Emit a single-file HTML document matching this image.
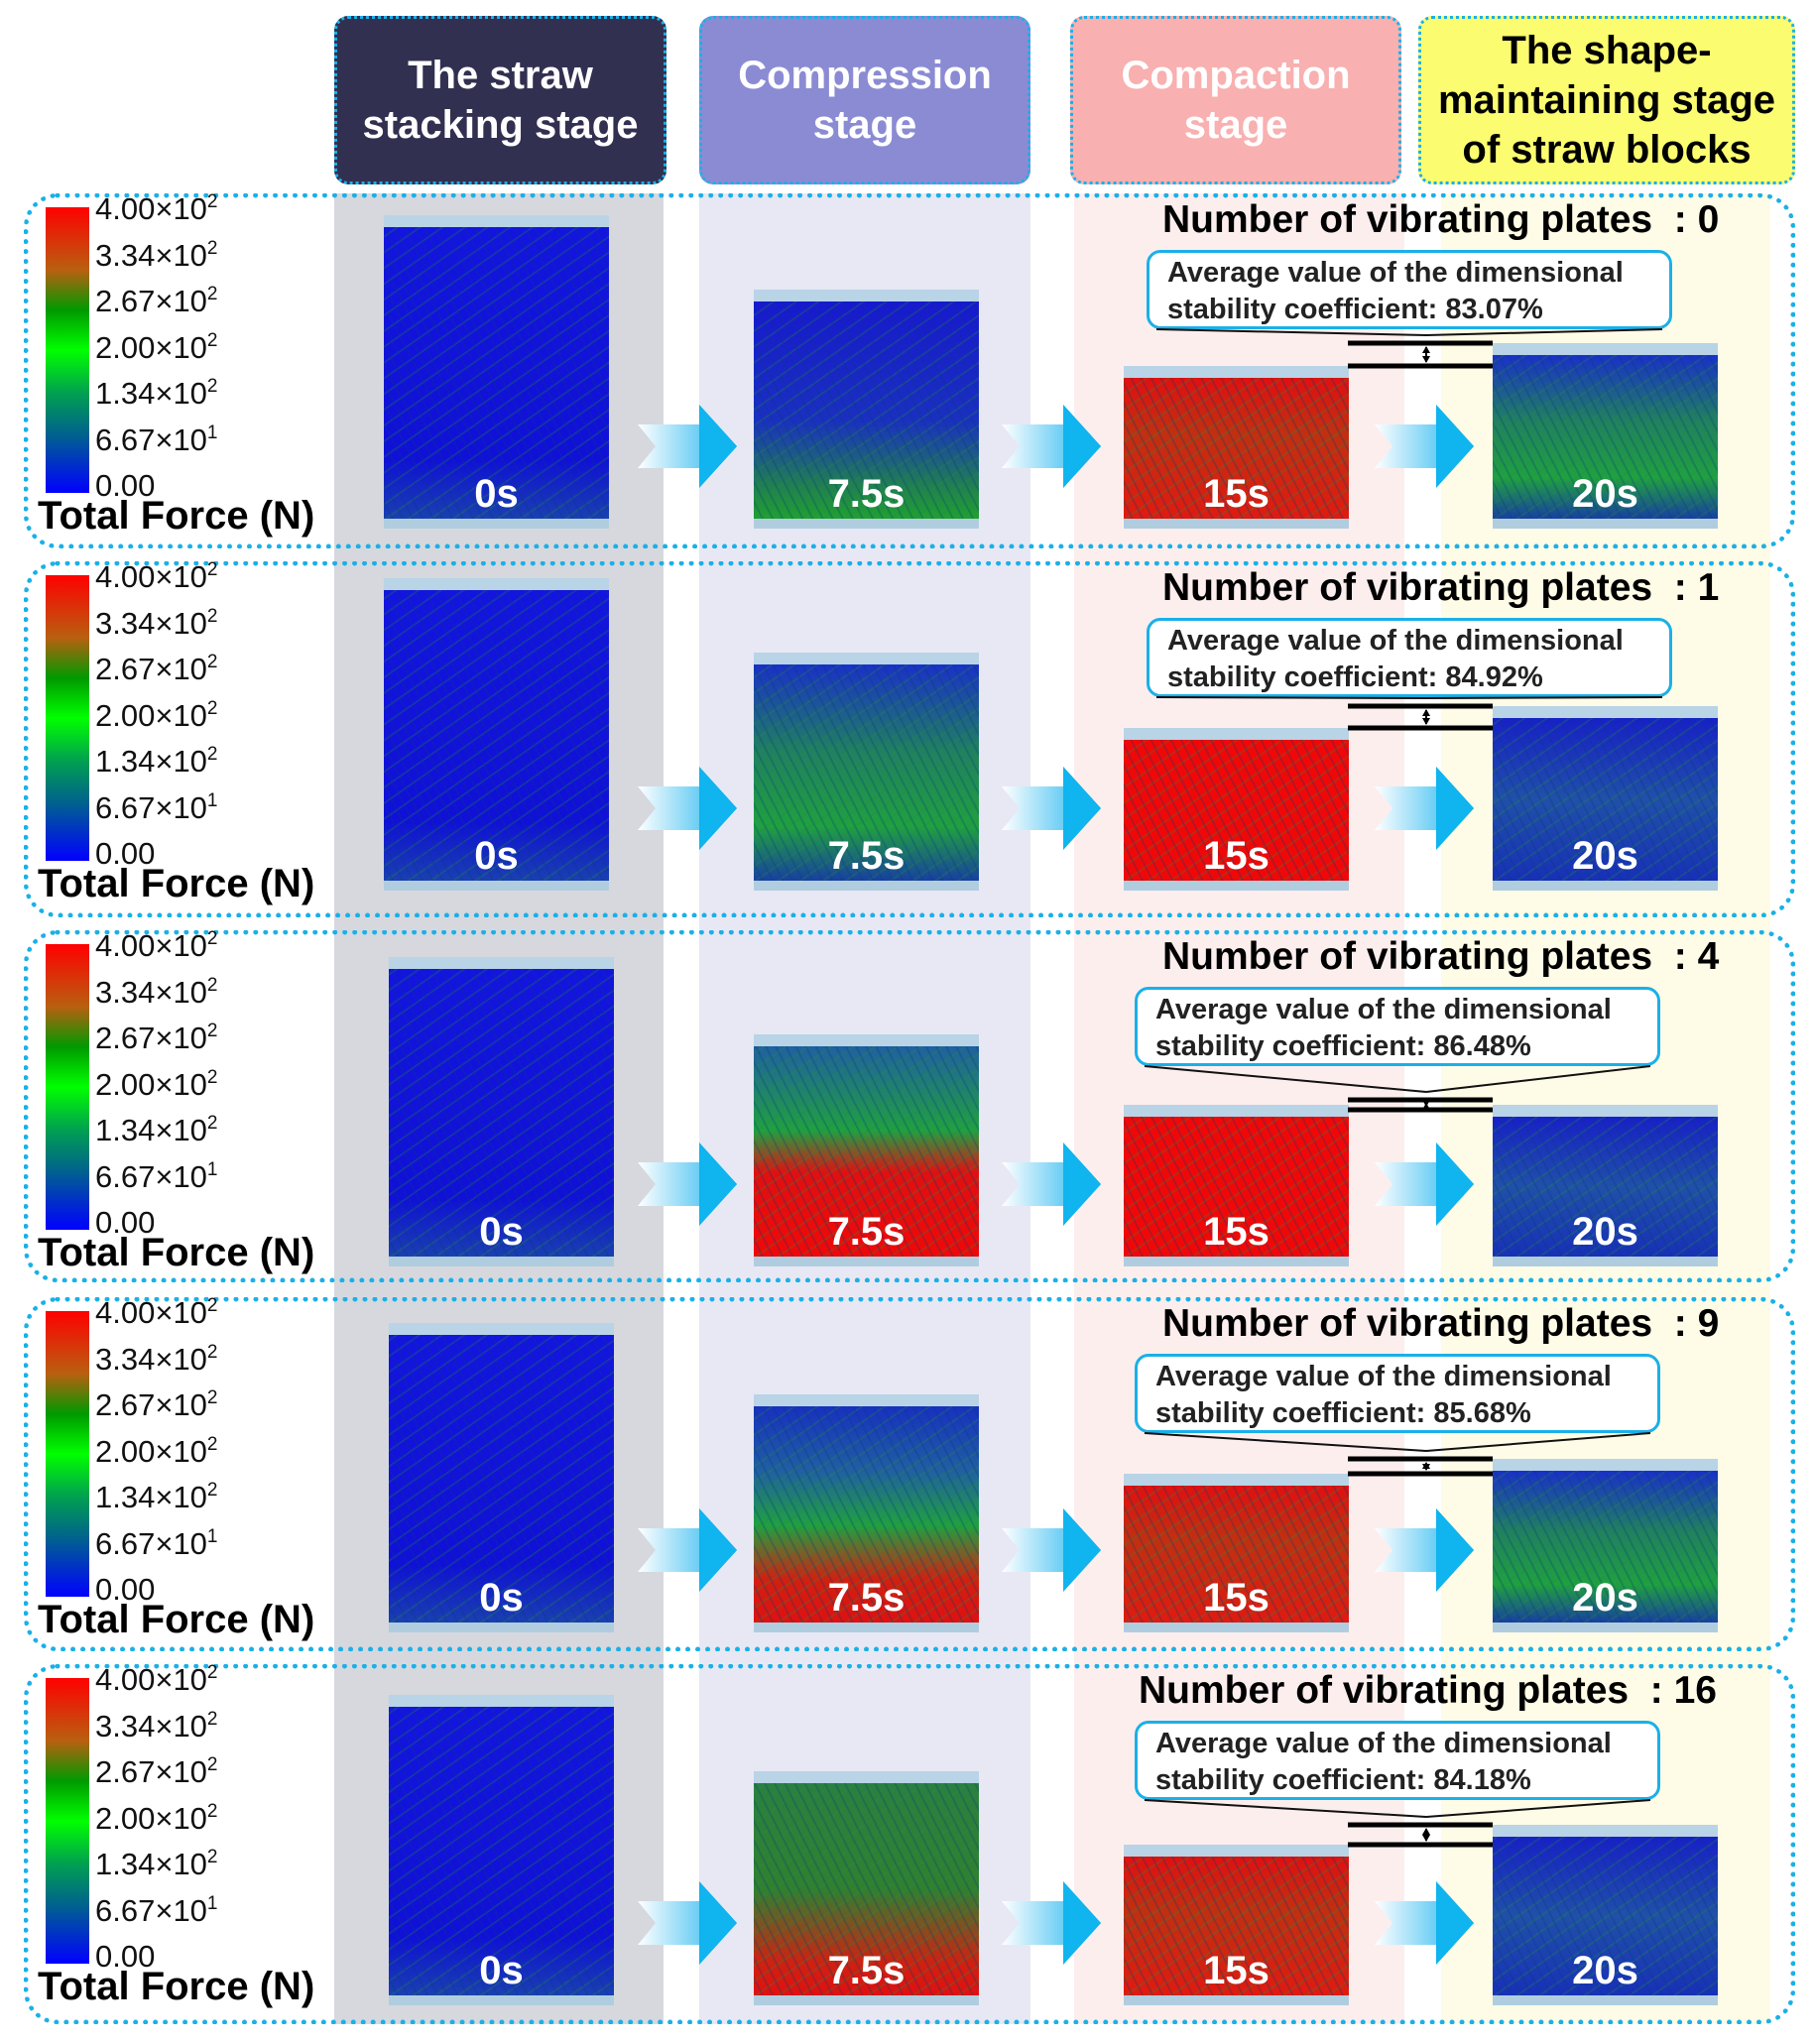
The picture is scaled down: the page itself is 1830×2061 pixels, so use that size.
<!DOCTYPE html>
<html><head><meta charset="utf-8"><style>
body{margin:0;width:1830px;height:2061px;background:#fff;position:relative;overflow:hidden;font-family:"Liberation Sans",sans-serif}
.a{position:absolute}
.hdr{position:absolute;top:16px;height:170px;border:3px dotted #1ab0e8;border-radius:14px;box-sizing:border-box;display:flex;align-items:center;justify-content:center;text-align:center;font-weight:bold;font-size:40px;line-height:50px;color:#fff}
.col{position:absolute;top:195px;height:1846px}
.row{position:absolute;left:24px;width:1786px;border:5px dotted #1ab0e8;border-radius:34px;box-sizing:border-box}
.cb{position:absolute;left:46px;width:44px;height:288px;background:linear-gradient(#ff0000 0%,#b86010 22%,#009a00 36%,#00ff00 50%,#00a050 65%,#006090 80%,#0000ff 100%)}
.lab{position:absolute;left:96px;font-size:31px;color:#111;line-height:30px}
.lab sup{font-size:19px;vertical-align:12px;line-height:0}
.tf{position:absolute;left:38px;font-size:40px;font-weight:bold;color:#000}
.img{position:absolute;box-sizing:border-box;border-top:12px solid #b8d4e6;border-bottom:10px solid #b0cde0}
.ts{position:absolute;left:0;right:0;bottom:2px;text-align:center;color:#fff;font-weight:bold;font-size:40px}
.num{position:absolute;left:1172px;font-weight:bold;font-size:39px;color:#000;white-space:nowrap}
.call{position:absolute;left:1156px;width:530px;height:80px;border:3px solid #1ab0e8;border-radius:14px;background:#fff;box-sizing:border-box;padding:2px 0 0 18px;font-weight:bold;font-size:29px;line-height:37px;color:#222}
</style></head><body>
<div class="col" style="left:337px;width:332px;background:#d6d8de"></div>
<div class="col" style="left:705px;width:334px;background:#e8e8f4"></div>
<div class="col" style="left:1083px;width:333px;background:#fdeeee"></div>
<div class="col" style="left:1453px;width:332px;background:#fefbe6"></div>

<div class="hdr" style="left:337px;width:335px;background:#323050">The straw<br>stacking stage</div>
<div class="hdr" style="left:705px;width:334px;background:#8b8bd4">Compression<br>stage</div>
<div class="hdr" style="left:1079px;width:334px;background:#f8b0b0">Compaction<br>stage</div>
<div class="hdr" style="left:1430px;width:380px;background:#fcfc70;color:#000">The shape-<br>maintaining stage<br>of straw blocks</div>

<div id="rows"></div>
<script>
const plates=["0","1","4","9","16"];
const coeffs=["83.07%","84.92%","86.48%","85.68%","84.18%"];
const tickMant=["4.00","3.34","2.67","2.00","1.34","6.67","0.00"];
const tickExp=["2","2","2","2","2","1",""];
const times=["0s","7.5s","15s","20s"];
const rowTop=[195,566,938,1308,1678];
const rowH=[358,359,355,357,363];
const imgTop=[[217,292,369,346],[583,658,734,712],[965,1043,1114,1114],[1334,1406,1486,1471],[1709,1786,1860,1840]];
const imgBot=[533,898,1277,1646,2022];
const imgX=[387,760,1133,1505];
const W=227;
const straw="repeating-linear-gradient(63deg,rgba(0,0,0,0) 0 7px,rgba(0,60,120,.25) 7px 9px),repeating-linear-gradient(-35deg,rgba(0,0,0,0) 0 11px,rgba(40,140,60,.25) 11px 13px)";
const fills={
 b:"linear-gradient(#1414e0,#1010d8 80%,#1a40b0)",
 bg:"linear-gradient(#1818d0 0%,#1a30c0 55%,#208050 85%,#20a030)",
 rg:"linear-gradient(#e01010 0%,#c03010 40%,#e01a10 100%)",
 bgm:"linear-gradient(#1a30c8 0%,#208060 40%,#20a040 75%,#1840a0)",
 r:"linear-gradient(#f00808,#f00808)",
 gr:"linear-gradient(#2060a0 0%,#20a040 40%,#e01010 60%,#f00808 100%)",
 gbr:"linear-gradient(#1830c0 0%,#2060a0 30%,#20a040 55%,#d02010 80%,#e01010)",
 bb:"linear-gradient(#1820c8 0%,#2050a8 50%,#1830b8)",
 grm:"linear-gradient(#2a8040 0%,#308030 50%,#d02010 85%,#e01010)"
};
const kinds=[["b","bg","rg","bgm"],["b","bgm","r","bb"],["b","gr","r","bb"],["b","gbr","rg","bgm"],["b","grm","rg","bb"]];
const root=document.getElementById('rows');
function add(html){root.insertAdjacentHTML('beforeend',html);}
for(let r=0;r<5;r++){
 const t=rowTop[r];
 add(`<div class="row" style="top:${t}px;height:${rowH[r]}px"></div>`);
 add(`<div class="cb" style="top:${t+14}px"></div>`);
 for(let i=0;i<7;i++){
  const y=t+1+i*46.5;
  add(`<div class="lab" style="top:${y}px">${tickMant[i]}${tickExp[i]?'×10<sup>'+tickExp[i]+'</sup>':''}</div>`);
 }
 add(`<div class="tf" style="top:${t+303}px">Total Force (N)</div>`);
 for(let c=0;c<4;c++){
  const top=imgTop[r][c],h=imgBot[r]-top;
  const x=imgX[c]+(c==0&&r>=2?5:0);
  add(`<div class="img" style="left:${x}px;top:${top}px;width:${W}px;height:${h}px;background:${straw},${fills[kinds[r][c]]}"><div class="ts">${times[c]}</div></div>`);
 }
 const ay=imgBot[r]-125;
 [643,1010,1386].forEach((ax,k)=>{
  add(`<svg class="a" style="left:${ax}px;top:${ay}px" width="100" height="84"><defs><linearGradient id="g${r}${k}" x1="0" x2="1"><stop offset="0" stop-color="#fff"/><stop offset="1" stop-color="#10b0ee"/></linearGradient></defs><polygon points="0,20 62,20 62,0 100,42 62,84 62,64 0,64 18,42" fill="url(#g${r}${k})"/><polygon points="62,0 100,42 62,84" fill="#10b4ee"/></svg>`);
 });
 const numLeft=r==4?1148:1172;
 add(`<div class="num" style="left:${numLeft}px;top:${t+5}px">Number of vibrating plates &nbsp;: ${plates[r]}</div>`);
 const cx=r>=2?1144:1156;
 add(`<div class="call" style="left:${cx}px;top:${t+57}px">Average value of the dimensional<br>stability coefficient: ${coeffs[r]}</div>`);
 let y1=Math.min(imgTop[r][2],imgTop[r][3]),y2=Math.max(imgTop[r][2],imgTop[r][3]);
 if(y2-y1<10){y1-=5;y2+=5;}
 const cb=t+137;
 add(`<svg class="a" style="left:0;top:0" width="1830" height="2061"><line x1="${cx+10}" y1="${cb}" x2="1438" y2="${y1-8}" stroke="#111" stroke-width="2"/><line x1="${cx+520}" y1="${cb}" x2="1438" y2="${y1-8}" stroke="#111" stroke-width="2"/><line x1="1359" y1="${y1}" x2="1505" y2="${y1}" stroke="#000" stroke-width="5"/><line x1="1359" y1="${y2}" x2="1505" y2="${y2}" stroke="#000" stroke-width="5"/><line x1="1438" y1="${y1+4}" x2="1438" y2="${y2-4}" stroke="#000" stroke-width="2"/><polygon points="1434,${y1+10} 1442,${y1+10} 1438,${y1+3}" fill="#000"/><polygon points="1434,${y2-10} 1442,${y2-10} 1438,${y2-3}" fill="#000"/></svg>`);
}
</script>
</body></html>
